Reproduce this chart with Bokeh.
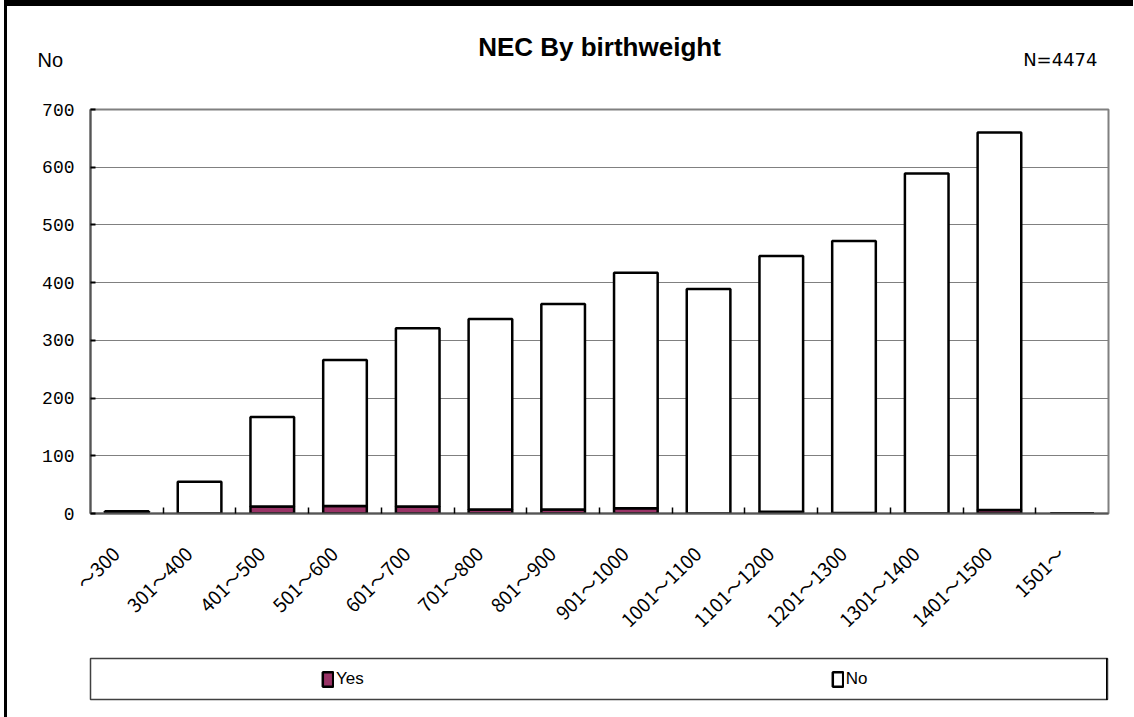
import math
from bokeh.plotting import figure
from bokeh.layouts import column
from bokeh.models import (ColumnDataSource, Range1d, FixedTicker, Legend, LegendItem, Label)
from bokeh.embed import file_html
from bokeh.resources import INLINE

# ---- data ----
categories = ["～300", "301～400", "401～500", "501～600", "601～700", "701～800",
              "801～900", "901～1000", "1001～1100", "1101～1200", "1201～1300",
              "1301～1400", "1401～1500", "1501～"]
yes = [0, 0, 12, 13, 12, 7, 7, 9, 0, 3, 1, 0, 6, 0]
no = [4, 55, 155, 253, 309, 330, 356, 408, 389, 443, 471, 589, 654, 0]
y_ticks = [0, 100, 200, 300, 400, 500, 600, 700]
series = ["Yes", "No"]
colors = ["#993366", "#FFFFFF"]
title_text = "NEC By birthweight"
y_label = "No"
n_label = "N=4474"

n = len(categories)
W = 1126
TOP_H = 90
MAIN_H = 559
LEG_H = 62


def no_align(fig):
    try:
        fig.frame_align = False
    except Exception:
        pass


# ---- header strip (title and corner texts) ----
top = figure(width=W, height=TOP_H, output_backend="svg", toolbar_location=None,
             x_range=Range1d(0, 1), y_range=Range1d(0, 1),
             x_axis_type=None, y_axis_type=None, min_border=0,
             outline_line_color=None, background_fill_color="white",
             border_fill_color="white")
top.grid.visible = False
no_align(top)
top.add_layout(Label(x=592, y=50, x_units="screen", y_units="screen", text=title_text,
                     text_font="Liberation Sans", text_font_size="26px",
                     text_font_style="bold", text_align="center",
                     text_baseline="alphabetic", text_color="black"))
top.add_layout(Label(x=30, y=37, x_units="screen", y_units="screen", text=y_label,
                     text_font="Liberation Sans", text_font_size="20px",
                     text_baseline="alphabetic", text_color="black"))
top.add_layout(Label(x=1090, y=37, x_units="screen", y_units="screen", text=n_label,
                     text_font="DejaVu Sans", text_font_size="18px",
                     text_align="right", text_baseline="alphabetic", text_color="black"))

# ---- main chart ----
src = ColumnDataSource(dict(x=[i + 0.5 for i in range(n)], yes=yes, no=no))

p = figure(width=W, height=MAIN_H, output_backend="svg", toolbar_location=None,
           x_range=Range1d(0, n), y_range=Range1d(0, y_ticks[-1]),
           min_border_left=83, min_border_right=25, min_border_top=13,
           min_border_bottom=142, background_fill_color="white",
           border_fill_color="white")
no_align(p)

rs = p.vbar_stack(["yes", "no"], x="x", width=0.6, source=src,
                  fill_color=colors, line_color="black", line_width=2.5)

p.outline_line_color = "#808080"
p.outline_line_width = 2

# y axis
p.yaxis.ticker = FixedTicker(ticks=y_ticks, minor_ticks=[])
p.yaxis.axis_line_color = "#555555"
p.yaxis.axis_line_width = 2
p.yaxis.major_tick_in = 5
p.yaxis.major_tick_out = 0
p.yaxis.major_tick_line_color = "black"
p.yaxis.major_tick_line_width = 2
p.yaxis.major_label_standoff = 16
p.yaxis.major_label_text_font = "Liberation Mono"
p.yaxis.major_label_text_font_size = "18px"
p.yaxis.major_label_text_color = "black"
p.ygrid.ticker = FixedTicker(ticks=y_ticks, minor_ticks=[])
p.ygrid.grid_line_color = "#808080"
p.ygrid.grid_line_width = 1
p.xgrid.visible = False

# x axis
label_ticks = [round(i + 0.34, 2) for i in range(n)]
p.xaxis.ticker = FixedTicker(ticks=label_ticks, minor_ticks=list(range(1, n)))
p.xaxis.major_label_overrides = {t: c for t, c in zip(label_ticks, categories)}
p.xaxis.major_label_orientation = math.pi / 4
p.xaxis.axis_line_color = "#555555"
p.xaxis.axis_line_width = 2
p.xaxis.major_tick_in = 0
p.xaxis.major_tick_out = 0
p.xaxis.minor_tick_in = 6
p.xaxis.minor_tick_out = 0
p.xaxis.minor_tick_line_color = "black"
p.xaxis.minor_tick_line_width = 1.5
p.xaxis.major_label_standoff = 36
p.xaxis.major_label_text_font = "Noto Sans CJK JP"
p.xaxis.major_label_text_font_size = "19px"
p.xaxis.major_label_text_color = "black"

# ---- legend strip (same series, drawn out of view; only its legend shows) ----
lf = figure(width=W, height=LEG_H, output_backend="svg", toolbar_location=None,
            x_range=Range1d(-3, -2), y_range=Range1d(0, 1),
            x_axis_type=None, y_axis_type=None,
            min_border_left=83, min_border_right=26, min_border_top=3,
            min_border_bottom=18, outline_line_color="#404040",
            outline_line_width=1.5, background_fill_color="white",
            border_fill_color="white")
lf.grid.visible = False
no_align(lf)
lrs = lf.vbar_stack(["yes", "no"], x="x", width=0.6, source=src,
                    fill_color=colors, line_color="black", line_width=2.5)
legend = Legend(items=[LegendItem(label=s, renderers=[r]) for s, r in zip(series, lrs)],
                orientation="horizontal", location=(231, 9), spacing=467,
                padding=0, margin=0, border_line_alpha=0, background_fill_alpha=0,
                glyph_width=13, glyph_height=18, label_standoff=2,
                label_height=22, label_text_font="Liberation Sans",
                label_text_font_size="17px", label_text_color="black")
lf.add_layout(legend, "center")

layout = column(top, p, lf, styles={"margin-left": "4px", "border-left": "3px solid black",
                                    "border-top": "6px solid black"})

open("out.html", "w").write(file_html(layout, INLINE))
